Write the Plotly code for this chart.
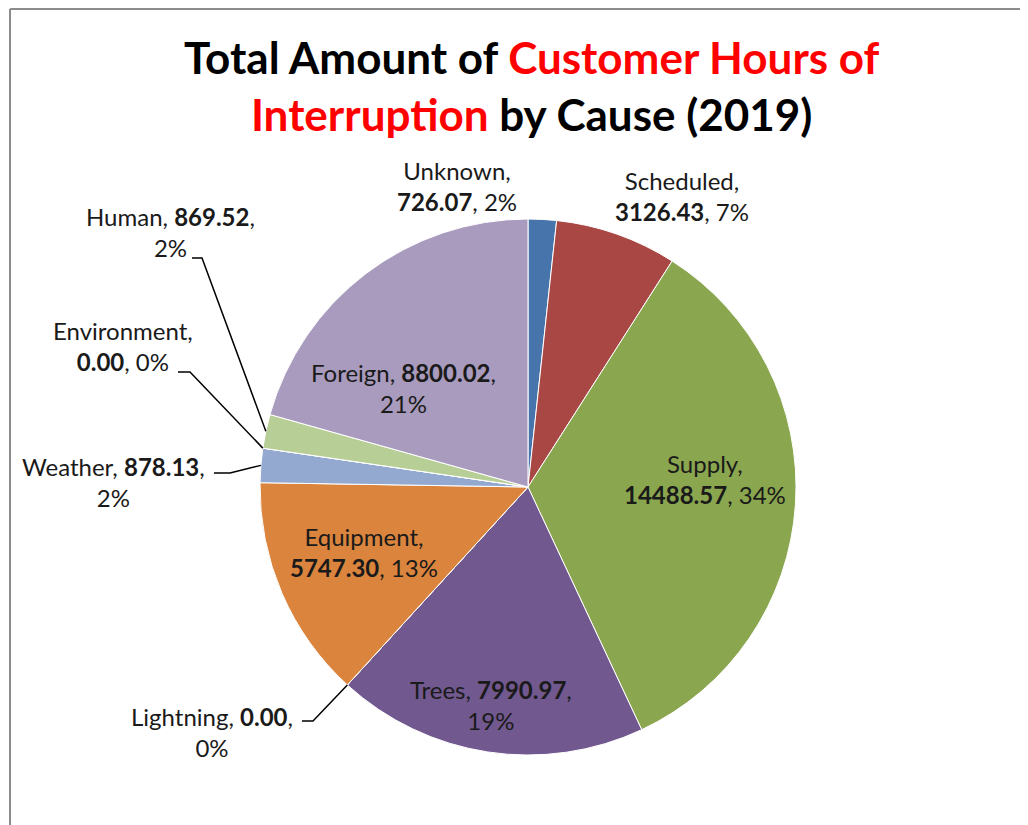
import math
import plotly.graph_objects as go

# ---- data ----
causes = ["Unknown", "Scheduled", "Supply", "Trees", "Lightning",
          "Equipment", "Weather", "Environment", "Human", "Foreign"]
hours = [726.07, 3126.43, 14488.57, 7990.97, 0.00,
         5747.30, 878.13, 0.00, 869.52, 8800.02]
colors = ["#4674AB", "#A84744", "#8AA64F", "#71588F", "#4198AF",
          "#DB843D", "#93A9D0", "#B8CE97", "#B8CE97", "#A99BBD"]

OFF = 8                      # page body margin
W, H = 1028 - 2 * OFF, 825 - OFF
CX, CY, R = 528, 487, 268    # pie centre / radius in screen pixels

total = sum(hours)
pct = [round(100 * v / total) for v in hours]

def px(x):
    return (x - OFF) / W

def py(y):
    return 1 - (y - OFF) / H

fig = go.Figure(go.Pie(
    labels=causes, values=hours, sort=False, direction="clockwise", rotation=0,
    marker=dict(colors=colors, line=dict(color="white", width=1)),
    textinfo="none", hoverinfo="label+value+percent", showlegend=False,
    domain=dict(x=[px(CX - R), px(CX + R)], y=[py(CY + R), py(CY - R)]),
))

# label layout positions (pixel centers) and optional leader-line elbow
label_pos = {
    "Unknown": (457, 186, None),
    "Scheduled": (682, 196, None),
    "Supply": (705, 479, None),
    "Trees": (491, 705, None),
    "Lightning": (212, 732, (302, 313, 721)),
    "Equipment": (364, 552, None),
    "Weather": (113, 482, (214, 230, 473)),
    "Environment": (123, 346, (178, 190, 372)),
    "Human": (170, 232, (192, 202, 258)),
    "Foreign": (403, 388, None),
}
label_text = {
    "Unknown": "Unknown,<br><b>{v}</b>, {p}%",
    "Scheduled": "Scheduled,<br><b>{v}</b>, {p}%",
    "Supply": "Supply,<br><b>{v}</b>, {p}%",
    "Trees": "Trees, <b>{v}</b>,<br>{p}%",
    "Lightning": "Lightning, <b>{v}</b>,<br>{p}%",
    "Equipment": "Equipment,<br><b>{v}</b>, {p}%",
    "Weather": "Weather, <b>{v}</b>,<br>{p}%",
    "Environment": "Environment,<br><b>{v}</b>, {p}%",
    "Human": "Human, <b>{v}</b>,<br>{p}%",
    "Foreign": "Foreign, <b>{v}</b>,<br>{p}%",
}

FONT = "Lato"
annotations = []
shapes = []
cum = 0.0
for name, v, p in zip(causes, hours, pct):
    mid = (cum + v / 2) / total
    cum += v
    lx, ly, leader = label_pos[name]
    annotations.append(dict(
        x=px(lx), y=py(ly), xref="paper", yref="paper", showarrow=False,
        text=label_text[name].format(v=f"{v:.2f}", p=p),
        font=dict(family=FONT, size=24, color="#1a1a1a"),
        xanchor="center", yanchor="middle", align="center",
    ))
    if leader:
        x0, x1, yl = leader
        ang = 2 * math.pi * mid
        ex = CX + R * math.sin(ang)
        ey = CY - R * math.cos(ang)
        shapes.append(dict(type="path", xref="paper", yref="paper",
                           path=f"M {px(x0)},{py(yl)} L {px(x1)},{py(yl)} L {px(ex)},{py(ey)}",
                           line=dict(color="black", width=1.5)))

# frame lines (top and left)
shapes.append(dict(type="line", xref="paper", yref="paper", x0=px(10), x1=1, y0=py(9), y1=py(9),
                   line=dict(color="#8c8c8c", width=2)))
shapes.append(dict(type="line", xref="paper", yref="paper", x0=px(10), x1=px(10), y0=0, y1=py(9),
                   line=dict(color="#8c8c8c", width=2)))

annotations.append(dict(
    x=px(532), y=py(86), xref="paper", yref="paper", showarrow=False,
    text=("<b>Total Amount of <span style='color:#FF0000'>Customer Hours of</span><br>"
          "<span style='color:#FF0000'>Interruption</span> by Cause (2019)</b>"),
    font=dict(family=FONT, size=44, color="black"),
    xanchor="center", yanchor="middle", align="center",
))

fig.update_layout(
    width=W, height=H, margin=dict(l=0, r=0, t=0, b=0),
    paper_bgcolor="white", plot_bgcolor="white",
    annotations=annotations, shapes=shapes,
)

fig.write_html("out.html")
